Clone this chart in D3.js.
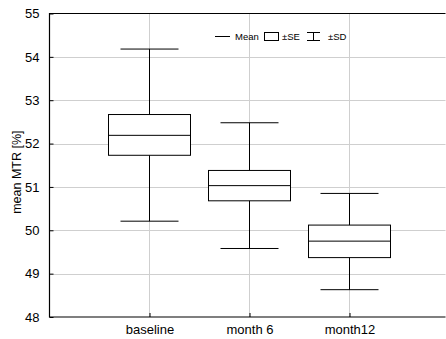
<!DOCTYPE html>
<html>
<head>
<meta charset="utf-8">
<script src="https://cdn.jsdelivr.net/npm/d3@7"></script>
<style>
  body { margin: 0; background: #fff; overflow: hidden; }
  svg { display: block; }
  text { font-family: "Liberation Sans", Arial, sans-serif; fill: #000; }
</style>
</head>
<body>
<script>
// data
var categories = ['baseline', 'month 6', 'month12'];
var means   = [52.19, 51.03, 49.75];
var seLow   = [51.73, 50.68, 49.37];
var seHigh  = [52.67, 51.38, 50.12];
var sdLow   = [50.21, 49.58, 48.63];
var sdHigh  = [54.18, 52.48, 50.85];
var yTicks  = [48, 49, 50, 51, 52, 53, 54, 55];

var width = 446, height = 339;
var margin = { left: 49.5, top: 13.5 };
var plotW = 400, plotH = 303.5;

var svg = d3.select('body').append('svg')
  .attr('width', width)
  .attr('height', height);

var x = d3.scaleLinear().domain([0, 4]).range([margin.left, margin.left + plotW]);
var y = d3.scaleLinear().domain([48, 55]).range([margin.top + plotH, margin.top]);
var xEnd = width - 0.5; // plot continues past the right edge

// grid
svg.append('g').selectAll('line').data(yTicks.slice(1, -1)).join('line')
  .attr('x1', x(0)).attr('x2', xEnd)
  .attr('y1', function(d) { return Math.round(y(d)) + 0.5; })
  .attr('y2', function(d) { return Math.round(y(d)) + 0.5; })
  .attr('stroke', '#cfcfcf').attr('stroke-width', 1);
svg.append('g').selectAll('line').data(categories).join('line')
  .attr('x1', function(d, i) { return x(i + 1); })
  .attr('x2', function(d, i) { return x(i + 1); })
  .attr('y1', y(55)).attr('y2', y(48))
  .attr('stroke', '#cfcfcf').attr('stroke-width', 1);

// frame
svg.append('path')
  .attr('d', 'M' + xEnd + ',' + y(55) + 'H' + x(0) + 'V' + y(48) + 'H' + xEnd)
  .attr('fill', 'none').attr('stroke', '#000').attr('stroke-width', 1.2);

// y axis
var yAxis = d3.axisLeft(y).tickValues(yTicks).tickFormat(d3.format('d')).tickSize(-4).tickPadding(10);
var gy = svg.append('g').attr('transform', 'translate(' + x(0) + ',0)').call(yAxis);
gy.select('.domain').remove();
gy.selectAll('text').style('font-size', '13px').style('font-family', '"Liberation Sans", Arial, sans-serif');

// x axis
var xb = d3.scalePoint().domain(categories).range([x(1), x(3)]);
var xAxis = d3.axisBottom(xb).tickSize(-4).tickPadding(8);
var gx = svg.append('g').attr('transform', 'translate(0,' + y(48) + ')').call(xAxis);
gx.select('.domain').remove();
gx.selectAll('text').style('font-size', '13px').style('font-family', '"Liberation Sans", Arial, sans-serif');

// y title
svg.append('text')
  .attr('transform', 'translate(21,' + y(51.34) + ') rotate(-90)')
  .attr('text-anchor', 'middle')
  .style('font-size', '12.5px')
  .text('mean MTR [%]');

// boxes
var boxW = 82, capW = 58;
var g = svg.append('g').selectAll('g').data(categories).join('g');
g.append('line')
  .attr('x1', function(d, i) { return x(i + 1); })
  .attr('x2', function(d, i) { return x(i + 1); })
  .attr('y1', function(d, i) { return y(sdHigh[i]); })
  .attr('y2', function(d, i) { return y(sdLow[i]); })
  .attr('stroke', '#000');
g.append('rect')
  .attr('x', function(d, i) { return x(i + 1) - boxW / 2; })
  .attr('y', function(d, i) { return y(seHigh[i]); })
  .attr('width', boxW)
  .attr('height', function(d, i) { return y(seLow[i]) - y(seHigh[i]); })
  .attr('fill', '#fff').attr('stroke', '#000');
g.append('line')
  .attr('x1', function(d, i) { return x(i + 1) - boxW / 2; })
  .attr('x2', function(d, i) { return x(i + 1) + boxW / 2; })
  .attr('y1', function(d, i) { return y(means[i]); })
  .attr('y2', function(d, i) { return y(means[i]); })
  .attr('stroke', '#000');
[sdHigh, sdLow].forEach(function(arr) {
  g.append('line')
    .attr('x1', function(d, i) { return x(i + 1) - capW / 2; })
    .attr('x2', function(d, i) { return x(i + 1) + capW / 2; })
    .attr('y1', function(d, i) { return y(arr[i]); })
    .attr('y2', function(d, i) { return y(arr[i]); })
    .attr('stroke', '#000');
});

// legend
var lg = svg.append('g').attr('transform', 'translate(0,37)');
lg.append('line').attr('x1', 215).attr('x2', 230).attr('y1', -0.5).attr('y2', -0.5).attr('stroke', '#000');
lg.append('text').attr('x', 235).attr('y', 3).style('font-size', '9.5px').text('Mean');
lg.append('rect').attr('x', 264.5).attr('y', -4.5).attr('width', 14).attr('height', 8).attr('fill', '#fff').attr('stroke', '#000');
lg.append('text').attr('x', 282).attr('y', 3).style('font-size', '9.5px').text('±SE');
lg.append('path').attr('d', 'M307,-4.5H320M313.5,-4.5V3.5M307,3.5H320').attr('fill', 'none').attr('stroke', '#000');
lg.append('text').attr('x', 328).attr('y', 3).style('font-size', '9.5px').text('±SD');
</script>
</body>
</html>
